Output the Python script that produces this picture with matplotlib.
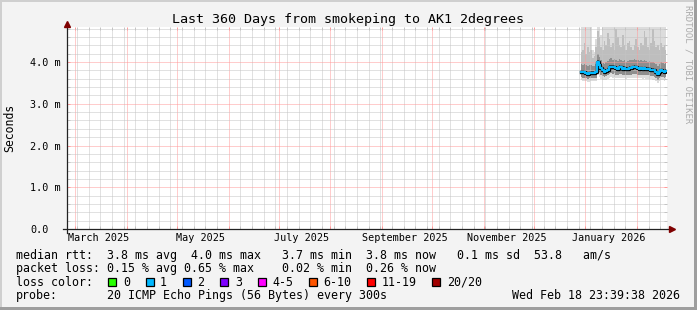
import datetime as dt
import matplotlib
matplotlib.use("Agg")
import matplotlib.pyplot as plt
import matplotlib.dates as mdates
import matplotlib.transforms as mtrans
from matplotlib.patches import Rectangle

# -------------------------------------------------
# Data
# -------------------------------------------------

title = "Last 360 Days from smokeping to AK1 2degrees"
t_start = dt.datetime(2025, 2, 23, 23, 39, 38)
t_end = dt.datetime(2026, 2, 18, 23, 39, 38)
first_day = dt.datetime(2025, 12, 29, 12, 0)

# median rtt per day, in ms
median = [3.77, 3.76, 3.75, 3.74, 3.72, 3.73, 3.74, 3.74, 3.74, 3.75,
          4.00, 3.93, 3.86, 3.80, 3.76, 3.79, 3.82, 3.88, 3.89, 3.88,
          3.89, 3.86, 3.84, 3.88, 3.87, 3.84, 3.86, 3.83, 3.84, 3.86,
          3.85, 3.87, 3.88, 3.87, 3.86, 3.84, 3.85, 3.84, 3.85, 3.84,
          3.83, 3.84, 3.82, 3.81, 3.80, 3.76, 3.71, 3.76, 3.80, 3.79,
          3.77, 3.79]

# smoke: ping spread per day (ms)
ping_max = [4.90, 4.90, 4.90, 4.90, 4.90, 4.90, 4.90, 4.30, 4.25, 4.55,
            4.90, 4.90, 4.65, 4.90, 4.90, 4.90, 4.90, 4.90, 4.90, 4.90,
            4.90, 4.90, 4.90, 4.90, 4.90, 4.90, 4.90, 4.90, 4.90, 4.90,
            4.90, 4.90, 4.90, 4.90, 4.90, 4.90, 4.90, 4.90, 4.90, 4.90,
            4.90, 4.90, 4.90, 4.90, 4.90, 4.90, 4.90, 4.90, 4.90, 4.90,
            4.90, 4.90]
ping_p90 = [4.25, 4.30, 4.45, 4.20, 4.35, 4.25, 4.30, 4.10, 4.15, 4.35,
            4.75, 4.60, 4.35, 4.30, 4.50, 4.40, 4.70, 4.55, 4.35, 4.45,
            4.30, 4.80, 4.60, 4.40, 4.35, 4.65, 4.40, 4.30, 4.45, 4.50,
            4.35, 4.30, 4.40, 4.55, 4.35, 4.30, 4.45, 4.40, 4.75, 4.60,
            4.35, 4.30, 4.45, 4.80, 4.50, 4.35, 4.40, 4.30, 4.45, 4.35,
            4.40, 4.30]
ping_p75 = [3.95, 3.93, 3.96, 3.92, 3.90, 3.92, 3.94, 3.90, 3.91, 3.95,
            4.20, 4.12, 4.05, 3.98, 3.96, 3.99, 4.02, 4.08, 4.10, 4.06,
            4.08, 4.05, 4.02, 4.08, 4.06, 4.03, 4.05, 4.01, 4.03, 4.05,
            4.04, 4.06, 4.08, 4.05, 4.04, 4.02, 4.04, 4.02, 4.05, 4.03,
            4.01, 4.03, 4.00, 4.00, 3.98, 3.95, 3.90, 3.95, 3.99, 3.97,
            3.96, 3.98]
ping_p60 = [3.81, 3.80, 3.79, 3.78, 3.76, 3.77, 3.78, 3.78, 3.78, 3.79,
            4.05, 3.98, 3.90, 3.84, 3.80, 3.83, 3.86, 3.92, 3.93, 3.92,
            3.93, 3.90, 3.88, 3.92, 3.91, 3.88, 3.90, 3.87, 3.88, 3.90,
            3.89, 3.91, 3.92, 3.91, 3.90, 3.88, 3.89, 3.88, 3.89, 3.88,
            3.87, 3.88, 3.86, 3.85, 3.84, 3.80, 3.75, 3.80, 3.84, 3.83,
            3.81, 3.83]
ping_p40 = [3.73, 3.72, 3.71, 3.70, 3.68, 3.69, 3.70, 3.70, 3.70, 3.71,
            3.94, 3.88, 3.81, 3.76, 3.72, 3.75, 3.78, 3.84, 3.85, 3.84,
            3.85, 3.82, 3.80, 3.84, 3.83, 3.80, 3.82, 3.79, 3.80, 3.82,
            3.81, 3.83, 3.84, 3.83, 3.82, 3.80, 3.81, 3.80, 3.81, 3.80,
            3.79, 3.80, 3.78, 3.77, 3.76, 3.72, 3.66, 3.72, 3.76, 3.75,
            3.73, 3.75]
ping_p10 = [3.64, 3.63, 3.62, 3.61, 3.60, 3.61, 3.62, 3.62, 3.62, 3.63,
            3.80, 3.75, 3.70, 3.66, 3.64, 3.66, 3.68, 3.72, 3.73, 3.72,
            3.73, 3.70, 3.69, 3.72, 3.71, 3.69, 3.70, 3.68, 3.69, 3.70,
            3.69, 3.71, 3.72, 3.71, 3.70, 3.69, 3.69, 3.68, 3.69, 3.68,
            3.68, 3.68, 3.67, 3.66, 3.65, 3.62, 3.57, 3.62, 3.65, 3.64,
            3.63, 3.65]
ping_min = [3.56, 3.55, 3.54, 3.54, 3.52, 3.53, 3.54, 3.54, 3.54, 3.55,
            3.68, 3.64, 3.60, 3.58, 3.56, 3.58, 3.60, 3.63, 3.64, 3.63,
            3.64, 3.62, 3.61, 3.63, 3.62, 3.61, 3.62, 3.60, 3.61, 3.62,
            3.61, 3.62, 3.63, 3.62, 3.62, 3.61, 3.61, 3.60, 3.61, 3.60,
            3.60, 3.60, 3.59, 3.58, 3.57, 3.54, 3.49, 3.54, 3.57, 3.56,
            3.55, 3.57]

y_ticks = [0.0, 1.0, 2.0, 3.0, 4.0]
y_tick_labels = ["0.0", "1.0 m", "2.0 m", "3.0 m", "4.0 m"]
month_labels = ["March 2025", "May 2025", "July 2025",
                "September 2025", "November 2025", "January 2026"]
month_label_dates = [dt.datetime(2025, 3, 15), dt.datetime(2025, 5, 15),
                     dt.datetime(2025, 7, 15), dt.datetime(2025, 9, 15),
                     dt.datetime(2025, 11, 15), dt.datetime(2026, 1, 15)]

loss_labels = ["0", "1", "2", "3", "4-5", "6-10", "11-19", "20/20"]
loss_colors = ["#26ff00", "#00b8ff", "#0059ff", "#7e00ff",
               "#ff00ff", "#ff5500", "#ff0000", "#a10000"]

rtt_line = "median rtt:  3.8 ms avg  4.0 ms max   3.7 ms min  3.8 ms now   0.1 ms sd  53.8   am/s"
loss_line = "packet loss: 0.15 % avg 0.65 % max    0.02 % min  0.26 % now"
probe_text = "20 ICMP Echo Pings (56 Bytes) every 300s"
stamp_text = "Wed Feb 18 23:39:38 2026"

days = [first_day + dt.timedelta(days=i) for i in range(len(median))]

# -------------------------------------------------
# Figure
# -------------------------------------------------

W, H = 697, 310
BG = "#f3f3f3"
MONO = "DejaVu Sans Mono"

fig = plt.figure(figsize=(W / 100, H / 100), dpi=100, facecolor=BG)


def fx(px):
    return px / W


def fy(py):
    return 1 - py / H


# frame (3d shade like rrdtool)
fig.add_artist(Rectangle((0, fy(2)), 1, 2 / H, transform=fig.transFigure, color="#cfcfcf", lw=0))
fig.add_artist(Rectangle((0, 0), 2 / W, 1, transform=fig.transFigure, color="#cfcfcf", lw=0))
fig.add_artist(Rectangle((fx(694), 0), 3 / W, 1, transform=fig.transFigure, color="#9e9e9e", lw=0))
fig.add_artist(Rectangle((0, 0), 1, 3 / H, transform=fig.transFigure, color="#9e9e9e", lw=0))

left, right, top, bottom = 67, 667, 27, 229
ax = fig.add_axes([fx(left), fy(bottom), (right - left) / W, (bottom - top) / H])
ax.set_facecolor("white")

# smoke, light to dark
ax.fill_between(days, ping_min, ping_max, step="mid", color="#dcdcdc", lw=0, zorder=1)
ax.fill_between(days, ping_p10, ping_p90, step="mid", color="#bebebe", lw=0, zorder=1)
ax.fill_between(days, ping_p10, ping_p75, step="mid", color="#8e8e8e", lw=0, zorder=1)
ax.fill_between(days, ping_p40, ping_p60, step="mid", color="#4a4a4a", lw=0, zorder=1)

# median line
ax.plot(days, median, drawstyle="steps-mid", color="black", lw=2.4, zorder=3)
ax.plot(days, median, drawstyle="steps-mid", color="#00b8ff", lw=1.6, zorder=4)

ax.set_xlim(t_start, t_end)
ax.set_ylim(0, 4.84)

# grid
ax.xaxis.set_major_locator(mdates.MonthLocator())
ax.xaxis.set_minor_locator(mdates.WeekdayLocator(byweekday=mdates.SU))
ax.xaxis.set_major_formatter(plt.NullFormatter())
ax.set_yticks(y_ticks, y_tick_labels)
ax.set_yticks([v / 10 for v in range(0, 49, 2)], minor=True)

ax.grid(True, which="minor", color="#c4c4c4", lw=0.72, ls=(0, (1, 1)))
ax.grid(True, which="major", color="#ff9a9a", lw=0.72, ls=(0, (1, 1)))
ax.set_axisbelow(False)

ax.tick_params(which="both", direction="in", length=2, width=0.72,
               top=True, right=True, bottom=True, left=True)
ax.tick_params(which="minor", color="#c4c4c4")
ax.tick_params(which="major", color="#ff9a9a")
ax.tick_params(axis="y", which="major", pad=26.6, labelsize=7.3)
for lbl in ax.get_yticklabels():
    lbl.set_fontfamily(MONO)
    lbl.set_horizontalalignment("left")

for s in ax.spines.values():
    s.set_visible(False)

# axes with arrows
ax.plot([-0.007, 1.007], [0, 0], transform=ax.transAxes, color="#222222", lw=0.9,
        clip_on=False, zorder=5)
ax.plot([0, 0], [-0.02, 1.01], transform=ax.transAxes, color="#222222", lw=0.9,
        clip_on=False, zorder=5)
ax.plot([1.008], [0], transform=ax.transAxes, marker=">", ms=4, color="#7f0000",
        clip_on=False, zorder=6)
ax.plot([0], [1.017], transform=ax.transAxes, marker="^", ms=4, color="#7f0000",
        clip_on=False, zorder=6)

# month labels
trans = mtrans.blended_transform_factory(ax.transData, ax.transAxes)
for d, lab in zip(month_label_dates, month_labels):
    ax.text(d, -0.045, lab, transform=trans, ha="center", va="center",
            fontsize=7.3, family=MONO)

# titles
fig.text(fx(348), fy(19), title, ha="center", va="center", fontsize=9.6, family=MONO)
fig.text(fx(10), fy(128), "Seconds", ha="center", va="center", rotation=90,
         fontsize=8.3, family=MONO)
fig.text(fx(688), fy(5), "RRDTOOL / TOBI OETIKER", ha="center", va="top",
         rotation=270, fontsize=6.5, family=MONO, color="#ababab")

# -------------------------------------------------
# Legend
# -------------------------------------------------

fs = 8.4
fig.text(fx(16), fy(255), rtt_line, ha="left", va="center", fontsize=fs, family=MONO)
fig.text(fx(16), fy(268.5), loss_line, ha="left", va="center", fontsize=fs, family=MONO)
fig.text(fx(16), fy(282), "loss color:", ha="left", va="center", fontsize=fs, family=MONO)
fig.text(fx(16), fy(295.5), "probe:", ha="left", va="center", fontsize=fs, family=MONO)
fig.text(fx(107), fy(295.5), probe_text, ha="left", va="center", fontsize=fs, family=MONO)
fig.text(fx(680), fy(295.5), stamp_text, ha="right", va="center", fontsize=fs, family=MONO)

x = 108.3
for lab, col in zip(loss_labels, loss_colors):
    fig.add_artist(Rectangle((fx(x), fy(286)), 8 / W, 8 / H, transform=fig.transFigure,
                             facecolor=col, edgecolor="black", lw=0.9))
    fig.text(fx(x + 14.5), fy(282), lab, ha="left", va="center", fontsize=fs, family=MONO)
    x += 30.4 + 6.94 * len(lab)

fig.savefig("out.png", dpi=100, facecolor=BG)
